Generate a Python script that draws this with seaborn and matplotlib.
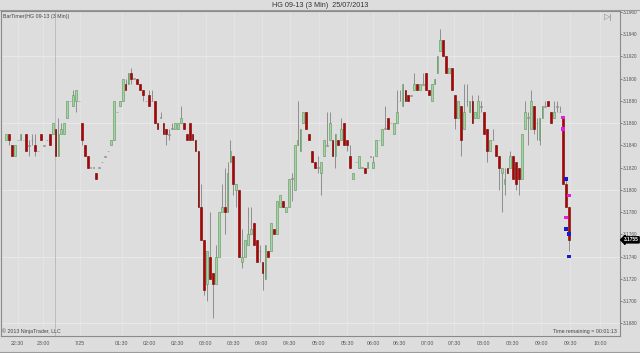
import matplotlib
matplotlib.use("Agg")
import matplotlib.pyplot as plt
from matplotlib.lines import Line2D
import matplotlib.transforms as mtrans
import numpy as np
import pandas as pd
import seaborn as sns

# ---------------- data (HG 09-13, 3 Min bars) ----------------
opens = [3.1845, 3.1850, 3.1840, 3.1830, 3.1845, 3.1845, 3.1845, 3.1850, 3.1840, 3.1845,
         3.1840, 3.1835, 3.1850, 3.1840, 3.1845, 3.1850, 3.1850, 3.1855, 3.1830, 3.1850,
         3.1850, 3.1865, 3.1880, 3.1875, 3.1880, 3.1880, 3.1860, 3.1840, 3.1830, 3.1820,
         3.1820, 3.1815, 3.1820, 3.1825, 3.1830, 3.1835, 3.1840, 3.1845, 3.1870, 3.1875,
         3.1880, 3.1895, 3.1895, 3.1905, 3.1900, 3.1900, 3.1895, 3.1890, 3.1880, 3.1885,
         3.1880, 3.1880, 3.1860, 3.1865, 3.1860, 3.1855, 3.1850, 3.1855, 3.1855, 3.1855,
         3.1860, 3.1860, 3.1850, 3.1860, 3.1850, 3.1845, 3.1835, 3.1785, 3.1755, 3.1715,
         3.1740, 3.1725, 3.1715, 3.1740, 3.1780, 3.1785, 3.1780, 3.1825, 3.1830, 3.1800,
         3.1800, 3.1735, 3.1740, 3.1750, 3.1760, 3.1770, 3.1755, 3.1745, 3.1735, 3.1720,
         3.1745, 3.1745, 3.1765, 3.1760, 3.1785, 3.1790, 3.1780, 3.1785, 3.1810, 3.1800,
         3.1840, 3.1835, 3.1860, 3.1870, 3.1850, 3.1835, 3.1825, 3.1820, 3.1815, 3.1830,
         3.1840, 3.1845, 3.1845, 3.1830, 3.1845, 3.1845, 3.1860, 3.1845, 3.1830, 3.1810,
         3.1825, 3.1820, 3.1820, 3.1820, 3.1820, 3.1830, 3.1820, 3.1830, 3.1845, 3.1840,
         3.1855, 3.1865, 3.1860, 3.1850, 3.1860, 3.1880, 3.1875, 3.1890, 3.1885, 3.1885,
         3.1890, 3.1895, 3.1890, 3.1895, 3.1905, 3.1890, 3.1880, 3.1895, 3.1905, 3.1925,
         3.1935, 3.1920, 3.1905, 3.1910, 3.1885, 3.1865, 3.1875, 3.1855, 3.1880, 3.1870,
         3.1880, 3.1865, 3.1865, 3.1875, 3.1870, 3.1855, 3.1835, 3.1845, 3.1840, 3.1830,
         3.1815, 3.1805, 3.1820, 3.1820, 3.1830, 3.1825, 3.1820, 3.1810, 3.1855, 3.1865,
         3.1855, 3.1875, 3.1860, 3.1845, 3.1865, 3.1875, 3.1880, 3.1870, 3.1865, 3.1875,
         3.1870, 3.1865, 3.1805, 3.1785]
highs = [3.1850, 3.1850, 3.1840, 3.1840, 3.1845, 3.1850, 3.1845, 3.1850, 3.1845, 3.1850,
         3.1850, 3.1835, 3.1850, 3.1840, 3.1845, 3.1850, 3.1860, 3.1855, 3.1865, 3.1860,
         3.1860, 3.1880, 3.1880, 3.1890, 3.1890, 3.1880, 3.1860, 3.1840, 3.1830, 3.1820,
         3.1820, 3.1815, 3.1820, 3.1825, 3.1830, 3.1835, 3.1845, 3.1880, 3.1870, 3.1880,
         3.1900, 3.1900, 3.1905, 3.1910, 3.1900, 3.1900, 3.1895, 3.1890, 3.1880, 3.1890,
         3.1890, 3.1880, 3.1860, 3.1870, 3.1860, 3.1855, 3.1855, 3.1860, 3.1860, 3.1860,
         3.1875, 3.1860, 3.1850, 3.1860, 3.1850, 3.1845, 3.1835, 3.1805, 3.1755, 3.1745,
         3.1780, 3.1725, 3.1750, 3.1780, 3.1805, 3.1820, 3.1825, 3.1845, 3.1830, 3.1805,
         3.1800, 3.1765, 3.1755, 3.1785, 3.1785, 3.1770, 3.1755, 3.1750, 3.1735, 3.1750,
         3.1745, 3.1770, 3.1765, 3.1790, 3.1795, 3.1790, 3.1785, 3.1810, 3.1815, 3.1840,
         3.1880, 3.1855, 3.1870, 3.1870, 3.1850, 3.1835, 3.1825, 3.1830, 3.1825, 3.1845,
         3.1870, 3.1870, 3.1845, 3.1850, 3.1845, 3.1865, 3.1860, 3.1845, 3.1840, 3.1815,
         3.1825, 3.1830, 3.1820, 3.1820, 3.1825, 3.1830, 3.1830, 3.1845, 3.1845, 3.1855,
         3.1875, 3.1865, 3.1860, 3.1860, 3.1890, 3.1890, 3.1895, 3.1890, 3.1885, 3.1885,
         3.1905, 3.1895, 3.1895, 3.1905, 3.1905, 3.1890, 3.1895, 3.1900, 3.1920, 3.1945,
         3.1935, 3.1920, 3.1910, 3.1910, 3.1885, 3.1880, 3.1875, 3.1895, 3.1895, 3.1880,
         3.1885, 3.1870, 3.1885, 3.1880, 3.1870, 3.1855, 3.1845, 3.1855, 3.1840, 3.1830,
         3.1820, 3.1820, 3.1820, 3.1835, 3.1830, 3.1825, 3.1820, 3.1850, 3.1880, 3.1870,
         3.1890, 3.1875, 3.1865, 3.1865, 3.1875, 3.1880, 3.1880, 3.1870, 3.1880, 3.1880,
         3.1875, 3.1865, 3.1810, 3.1785]
lows = [3.1845, 3.1840, 3.1830, 3.1830, 3.1845, 3.1845, 3.1845, 3.1835, 3.1830, 3.1840,
        3.1830, 3.1835, 3.1845, 3.1840, 3.1845, 3.1840, 3.1850, 3.1830, 3.1830, 3.1850,
        3.1850, 3.1865, 3.1880, 3.1875, 3.1870, 3.1880, 3.1840, 3.1830, 3.1820, 3.1820,
        3.1820, 3.1810, 3.1820, 3.1825, 3.1830, 3.1835, 3.1840, 3.1845, 3.1870, 3.1875,
        3.1880, 3.1890, 3.1895, 3.1895, 3.1900, 3.1895, 3.1890, 3.1880, 3.1880, 3.1875,
        3.1880, 3.1860, 3.1855, 3.1865, 3.1850, 3.1840, 3.1845, 3.1855, 3.1855, 3.1855,
        3.1860, 3.1855, 3.1845, 3.1845, 3.1845, 3.1835, 3.1785, 3.1755, 3.1705, 3.1700,
        3.1720, 3.1685, 3.1715, 3.1740, 3.1780, 3.1760, 3.1780, 3.1825, 3.1795, 3.1785,
        3.1740, 3.1730, 3.1740, 3.1750, 3.1760, 3.1750, 3.1735, 3.1735, 3.1710, 3.1720,
        3.1740, 3.1745, 3.1760, 3.1760, 3.1785, 3.1785, 3.1780, 3.1785, 3.1790, 3.1800,
        3.1840, 3.1835, 3.1860, 3.1855, 3.1845, 3.1825, 3.1820, 3.1815, 3.1795, 3.1830,
        3.1840, 3.1845, 3.1830, 3.1820, 3.1840, 3.1845, 3.1840, 3.1835, 3.1820, 3.1810,
        3.1825, 3.1820, 3.1820, 3.1815, 3.1820, 3.1830, 3.1820, 3.1830, 3.1845, 3.1840,
        3.1855, 3.1855, 3.1860, 3.1850, 3.1860, 3.1880, 3.1875, 3.1880, 3.1880, 3.1885,
        3.1890, 3.1890, 3.1890, 3.1895, 3.1890, 3.1885, 3.1880, 3.1895, 3.1905, 3.1925,
        3.1920, 3.1905, 3.1905, 3.1890, 3.1855, 3.1865, 3.1830, 3.1855, 3.1875, 3.1870,
        3.1860, 3.1865, 3.1865, 3.1870, 3.1850, 3.1825, 3.1835, 3.1845, 3.1830, 3.1800,
        3.1780, 3.1795, 3.1815, 3.1820, 3.1810, 3.1800, 3.1795, 3.1810, 3.1855, 3.1840,
        3.1855, 3.1850, 3.1845, 3.1840, 3.1865, 3.1875, 3.1875, 3.1860, 3.1865, 3.1870,
        3.1870, 3.1805, 3.1785, 3.1745]
closes = [3.1850, 3.1845, 3.1830, 3.1840, 3.1845, 3.1850, 3.1845, 3.1835, 3.1840, 3.1845,
          3.1835, 3.1835, 3.1845, 3.1840, 3.1845, 3.1840, 3.1860, 3.1830, 3.1850, 3.1855,
          3.1860, 3.1880, 3.1880, 3.1885, 3.1890, 3.1880, 3.1845, 3.1830, 3.1820, 3.1820,
          3.1820, 3.1810, 3.1820, 3.1825, 3.1830, 3.1835, 3.1845, 3.1880, 3.1870, 3.1880,
          3.1900, 3.1890, 3.1905, 3.1900, 3.1900, 3.1895, 3.1890, 3.1885, 3.1880, 3.1875,
          3.1880, 3.1860, 3.1855, 3.1865, 3.1850, 3.1850, 3.1850, 3.1855, 3.1860, 3.1860,
          3.1865, 3.1855, 3.1845, 3.1845, 3.1845, 3.1835, 3.1785, 3.1755, 3.1710, 3.1745,
          3.1720, 3.1715, 3.1740, 3.1780, 3.1785, 3.1780, 3.1815, 3.1835, 3.1805, 3.1805,
          3.1740, 3.1740, 3.1755, 3.1760, 3.1765, 3.1750, 3.1735, 3.1745, 3.1725, 3.1750,
          3.1740, 3.1770, 3.1760, 3.1790, 3.1795, 3.1785, 3.1785, 3.1810, 3.1810, 3.1840,
          3.1845, 3.1855, 3.1870, 3.1855, 3.1845, 3.1825, 3.1820, 3.1820, 3.1825, 3.1845,
          3.1840, 3.1860, 3.1830, 3.1850, 3.1840, 3.1855, 3.1840, 3.1840, 3.1820, 3.1815,
          3.1825, 3.1830, 3.1820, 3.1815, 3.1825, 3.1830, 3.1825, 3.1845, 3.1845, 3.1855,
          3.1855, 3.1855, 3.1860, 3.1860, 3.1870, 3.1880, 3.1895, 3.1880, 3.1880, 3.1885,
          3.1895, 3.1890, 3.1895, 3.1895, 3.1890, 3.1885, 3.1895, 3.1900, 3.1920, 3.1935,
          3.1920, 3.1905, 3.1910, 3.1890, 3.1865, 3.1880, 3.1845, 3.1870, 3.1880, 3.1880,
          3.1860, 3.1870, 3.1880, 3.1875, 3.1850, 3.1835, 3.1845, 3.1845, 3.1830, 3.1820,
          3.1820, 3.1810, 3.1815, 3.1830, 3.1810, 3.1805, 3.1810, 3.1850, 3.1870, 3.1865,
          3.1880, 3.1855, 3.1860, 3.1865, 3.1875, 3.1875, 3.1875, 3.1860, 3.1870, 3.1875,
          3.1870, 3.1805, 3.1785, 3.1755]

time_tick_bars = [4, 12.7, 25.3, 39.7, 49.3, 58.9, 68.5, 78.1, 87.7, 97.3, 107.2,
                  117.1, 126, 134.9, 144.5, 153.8, 163.7, 173.6, 183.6, 193.5, 203.8]
time_tick_labels = ["22:30", "23:00", "7/25", "01:30", "02:00", "02:30", "03:00",
                    "03:30", "04:00", "04:30", "05:00", "05:30", "06:00", "06:30",
                    "07:00", "07:30", "08:00", "08:30", "09:00", "09:30", "10:00"]
price_ticks = [3.1680, 3.1700, 3.1720, 3.1740, 3.1760, 3.1780, 3.1800, 3.1820,
               3.1840, 3.1860, 3.1880, 3.1900, 3.1920, 3.1940, 3.1960]
grid_prices = [3.1680, 3.1740, 3.1800, 3.1860, 3.1920]
session_break_bar = 16.8
last_price = 3.1755

marker_bars = [191, 191, 192, 193, 192, 192, 193, 193]
marker_prices = [3.1865, 3.1855, 3.1810, 3.1795, 3.1775, 3.1765, 3.1760, 3.1740]
marker_kinds = ["sell", "sell", "buy", "sell", "sell", "buy", "buy", "buy"]

# ---------------- drawing ----------------
BG = "#dddddd"
sns.set_style("white")
plt.rcParams["font.family"] = ["Liberation Sans", "DejaVu Sans"]

fig = plt.figure(figsize=(6.4, 3.53), dpi=100, facecolor=BG)
ax = fig.add_axes([1 / 640, 17 / 353, 619 / 640, 325 / 353], facecolor=BG)

df = pd.DataFrame({"open": opens, "high": highs, "low": lows, "close": closes})
df["bar"] = np.arange(len(df))
df["lo_body"] = df[["open", "close"]].min(axis=1)
df["hi_body"] = df[["open", "close"]].max(axis=1)
df["kind"] = np.where(df["close"] > df["open"], "up",
                      np.where(df["close"] < df["open"], "down", "flat"))

# grid
for p in grid_prices:
    ax.axhline(p, color="#e9e9e9", lw=0.7, zorder=0)
for t in time_tick_bars:
    ax.axvline(t, color="#e6e6e6", lw=0.6, zorder=0)
ax.axvline(session_break_bar, color="#bdbdbd", lw=0.7, zorder=0)

# wicks
ax.vlines(df["bar"], df["low"], df["high"], color="#8f8f8f", lw=0.7, zorder=2)

# bodies
styles = {"up": ("#a3d4a3", "#5d935d"), "down": ("#b30000", "#6e0000"),
          "flat": ("#8f8f8f", "#8f8f8f")}
for kind, (fc, ec) in styles.items():
    sub = df[df["kind"] == kind]
    h = (sub["hi_body"] - sub["lo_body"]).clip(lower=0.00005)
    ax.bar(sub["bar"], h, bottom=sub["lo_body"] - (0.000025 if kind == "flat" else 0),
           width=0.62, color=fc, edgecolor=ec, linewidth=0.4, zorder=3)

# trade markers
mk = pd.DataFrame({"bar": marker_bars, "price": marker_prices, "kind": marker_kinds})
sns.scatterplot(data=mk, x="bar", y="price", hue="kind",
                palette={"buy": "#1a1acc", "sell": "#e020e0"},
                marker="s", s=7, linewidth=0, legend=False, ax=ax, zorder=5)

# axes
ax.set_xlim(-1.71, 210.6)
ax.set_ylim(3.16685, 3.19609)
ax.set_xlabel("")
ax.set_ylabel("")
ax.yaxis.tick_right()
ax.set_yticks(price_ticks)
ax.set_yticklabels([f"{p:.4f}" for p in price_ticks])
ax.set_xticks(time_tick_bars)
ax.set_xticklabels(time_tick_labels)
ax.tick_params(axis="x", labelsize=3.8, colors="#555555", length=2, width=0.5,
               pad=1.5, direction="out")
ax.tick_params(axis="y", labelsize=3.4, colors="#555555", length=1.5, width=0.5,
               pad=0.8, direction="out")
for s in ax.spines.values():
    s.set_color("#8a8a8a")
    s.set_linewidth(0.8)

# current price box
trans = mtrans.blended_transform_factory(ax.transAxes, ax.transData)
ax.text(1.006, last_price, f"{last_price:.4f}", transform=trans, ha="left", va="center",
        fontsize=3.4, color="white", fontweight="bold",
        bbox=dict(boxstyle="larrow,pad=0.12", fc="black", ec="black"), zorder=6)

# texts
fig.text(0.5, 1 - 5.5 / 353, "HG 09-13 (3 Min)  25/07/2013", ha="center", va="center",
         fontsize=5.2, color="#333333")
ax.text(2 / 619, 1 - 3 / 325, "BarTimer(HG 09-13 (3 Min))", transform=ax.transAxes,
        ha="left", va="top", fontsize=3.8, color="#444444")
ax.text(1 / 619, 2 / 325, "© 2013 NinjaTrader, LLC", transform=ax.transAxes,
        ha="left", va="bottom", fontsize=3.8, color="#444444")
ax.text(1 - 3 / 619, 2 / 325, "Time remaining = 00:01:13", transform=ax.transAxes,
        ha="right", va="bottom", fontsize=3.8, color="#444444")
ax.text(1 - 12 / 619, 1 - 6 / 325, "▷|", transform=ax.transAxes, ha="center", va="center",
        fontsize=6, color="#888888")

fig.add_artist(Line2D([0, 1], [1 - 10 / 353, 1 - 10 / 353], transform=fig.transFigure,
                      color="#9a9a9a", lw=0.8))
fig.add_artist(Line2D([0, 1], [1 / 353, 1 / 353], transform=fig.transFigure,
                      color="#9a9a9a", lw=0.8))

fig.savefig("out.png", dpi=100, facecolor=BG)
